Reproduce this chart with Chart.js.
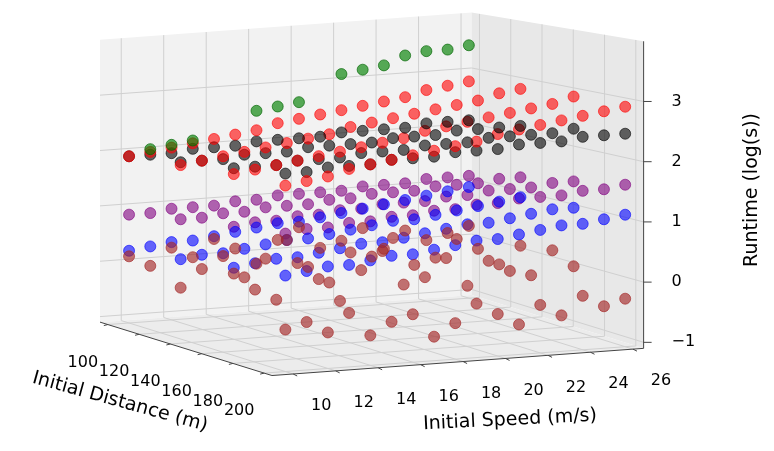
<!DOCTYPE html>
<html><head><meta charset="utf-8">
<script src="https://cdn.jsdelivr.net/npm/chart.js@4"></script>
<style>html,body{margin:0;background:#fff}</style></head>
<body><canvas id="c" width="774" height="451"></canvas>
<script>
const speeds=[10,11,12,13,14,15,16,17,18,19,20,21,22,23,24,25,26];
const distances=[100,133,167,200];
const speedTicks=[10,12,14,16,18,20,22,24,26];
const distTicks=[100,120,140,160,180,200];
const zTicks=[-1,0,1,2,3];
const brown=[[0.1,-0.1,0.2,0.0,0.3,0.1,-0.2,0.2,0.4,0.0,0.1,0.3,-0.1,0.2,0.0,0.1,0.2],[-0.2,0.1,0.3,-0.1,0.2,0.5,0.0,-0.3,0.2,0.1,0.4,-0.1,0.0,0.3,0.1,-0.2,0.1],[0.3,0.0,-0.2,0.4,0.1,-0.3,0.2,0.5,-0.1,0.0,0.3,-0.2,0.2,0.0,-0.1,0.3,0.0],[-0.4,-0.3,-0.5,-0.2,-0.6,-0.4,-0.3,-0.7,-0.5,-0.2,-0.4,-0.6,-0.3,-0.5,-0.2,-0.4,-0.3]];
const blue=[[0.2,0.25,0.3,0.3,0.35,0.4,0.45,0.5,0.5,0.55,0.6,0.65,0.7,0.75,0.8,0.85,0.9],[0.3,0.35,0.35,0.4,0.45,0.5,0.5,0.55,0.6,0.65,0.7,0.7,0.75,0.8,0.85,0.9,0.95],[0.4,0.45,0.5,0.5,0.55,0.6,0.65,0.65,0.7,0.75,0.8,0.85,0.85,0.9,0.95,1.0,1.0],[0.5,0.55,0.6,0.6,0.65,0.7,0.7,0.75,0.8,0.85,0.85,0.9,0.95,1.0,1.0,1.05,1.1]];
const purple=[[0.85,0.85,0.9,0.9,0.9,0.95,0.95,1.0,1.0,1.0,1.0,1.05,1.05,1.05,1.1,1.1,1.1],[1.0,1.0,1.05,1.05,1.1,1.1,1.1,1.15,1.15,1.2,1.2,1.2,1.25,1.25,1.25,1.3,1.3],[1.1,1.15,1.15,1.2,1.2,1.25,1.25,1.3,1.3,1.3,1.35,1.35,1.4,1.4,1.4,1.45,1.45],[1.2,1.25,1.25,1.3,1.3,1.35,1.35,1.4,1.4,1.45,1.45,1.5,1.5,1.5,1.55,1.55,1.6]];
const red=[[1.9,1.95,2.0,2.05,2.1,2.15,2.2,2.3,2.35,2.4,2.45,2.5,2.55,2.6,2.7,2.75,2.8],[1.95,2.0,2.05,2.1,2.15,2.2,2.25,2.3,2.4,2.45,2.5,2.55,2.6,2.65,2.7,2.8,2.85],[2.0,2.05,2.1,2.15,2.2,2.25,2.3,2.35,2.4,2.5,2.55,2.6,2.65,2.7,2.75,2.8,2.9],[2.0,2.05,2.1,2.2,2.25,2.3,2.35,2.4,2.45,2.5,2.6,2.65,2.7,2.75,2.8,2.85,2.9]];
const black=[[1.9,1.9,1.9,1.95,1.95,1.95,2.0,2.0,2.0,2.0,2.05,2.05,2.05,2.05,2.1,2.1,2.1],[2.0,2.0,2.0,2.05,2.05,2.05,2.1,2.1,2.1,2.1,2.15,2.15,2.15,2.2,2.2,2.2,2.2],[2.1,2.1,2.1,2.15,2.15,2.15,2.2,2.2,2.2,2.25,2.25,2.25,2.3,2.3,2.3,2.3,2.35],[2.2,2.2,2.25,2.25,2.25,2.3,2.3,2.3,2.35,2.35,2.35,2.4,2.4,2.4,2.45,2.45,2.45]];
const green=[null,2.0,2.05,2.1,null,null,2.55,2.6,2.65,null,3.1,3.15,3.2,3.35,3.4,3.4,3.45];
const greenDist=100;

const S0=9,S1=26.5,D0=95,D1=205,Z0=-1.1,Z1=4.0;
function proj(s,d,z){
  const zs=57+(d-D0)/(D1-D0)*5;
  return {x:270+(s-S0)*21.6+(d-D1)*1.59, y:380-(s-S0)*1.6+(d-D1)*0.5-(z-Z0)*zs};
}
const series=[['rgba(165,42,42,0.65)',brown],['rgba(0,0,255,0.6)',blue],['rgba(128,0,128,0.6)',purple],['rgba(255,0,0,0.6)',red],['rgba(0,0,0,0.6)',black]];
const datasets=[];
distances.forEach((d,ri)=>{
  if(d===greenDist){datasets.push({data:speeds.map((s,i)=>green[i]==null?null:proj(s,d,green[i])).filter(p=>p),backgroundColor:'rgba(0,128,0,0.65)',borderColor:'rgba(0,100,0,0.65)'});}
  series.forEach(([c,arr])=>datasets.push({data:speeds.map((s,i)=>proj(s,d,arr[ri][i])),backgroundColor:c,borderColor:c}));
});
datasets.forEach(ds=>{ds.pointRadius=5.5;ds.borderWidth=1;});

const box={id:'box',beforeDatasetsDraw(chart){
  const ctx=chart.ctx,X=chart.scales.x,Y=chart.scales.y;
  const P=(s,d,z)=>{const p=proj(s,d,z);return [X.getPixelForValue(p.x),Y.getPixelForValue(p.y)];};
  const poly=(pts,fill)=>{ctx.beginPath();pts.forEach((p,i)=>i?ctx.lineTo(...p):ctx.moveTo(...p));ctx.closePath();ctx.fillStyle=fill;ctx.fill();};
  const line=(a,b,c,w)=>{ctx.beginPath();ctx.moveTo(...a);ctx.lineTo(...b);ctx.strokeStyle=c;ctx.lineWidth=w;ctx.stroke();};
  ctx.save();
  poly([P(S0,D0,Z0),P(S1,D0,Z0),P(S1,D0,Z1),P(S0,D0,Z1)],'#f2f2f2');
  poly([P(S1,D0,Z0),P(S1,D1,Z0),P(S1,D1,Z1),P(S1,D0,Z1)],'#e8e8e8');
  poly([P(S0,D0,Z0),P(S1,D0,Z0),P(S1,D1,Z0),P(S0,D1,Z0)],'#ececec');
  const g='#d0d0d0';
  speedTicks.forEach(s=>{line(P(s,D1,Z0),P(s,D0,Z0),g,1);line(P(s,D0,Z0),P(s,D0,Z1),g,1);});
  distTicks.forEach(d=>{line(P(S0,d,Z0),P(S1,d,Z0),g,1);line(P(S1,d,Z0),P(S1,d,Z1),g,1);});
  zTicks.forEach(z=>{line(P(S0,D0,z),P(S1,D0,z),g,1);line(P(S1,D0,z),P(S1,D1,z),g,1);});
  const k='#444';
  line(P(S0,D1,Z0),P(S1,D1,Z0),k,1);line(P(S0,D0,Z0),P(S0,D1,Z0),k,1);line(P(S1,D1,Z0),P(S1,D1,Z1),k,1);
  ctx.fillStyle='#000';ctx.font='16px "DejaVu Sans"';ctx.textAlign='center';ctx.textBaseline='middle';
  speedTicks.forEach(s=>{const p=P(s,D1,Z0);line(p,[p[0]+4,p[1]+2],k,1);ctx.fillText(String(s),p[0]+28,p[1]+32);});
  distTicks.forEach(d=>{const p=P(S0,d,Z0);line(p,[p[0]-4,p[1]+1],k,1);ctx.fillText(String(d),p[0]-25,p[1]+38);});
  zTicks.forEach(z=>{const p=P(S1,D1,z);line(p,[p[0]+8,p[1]],k,1);ctx.textAlign='left';ctx.fillText(z<0?'\u22121':String(z),p[0]+28,p[1]);ctx.textAlign='center';});
  ctx.font='19px "DejaVu Sans"';
  ctx.save();ctx.translate(120,402);ctx.rotate(0.27);ctx.fillText('Initial Distance (m)',0,0);ctx.restore();
  ctx.save();ctx.translate(510,420);ctx.rotate(-0.05);ctx.fillText('Initial Speed (m/s)',0,0);ctx.restore();
  ctx.save();ctx.translate(752,190);ctx.rotate(-Math.PI/2);ctx.fillText('Runtime (log(s))',0,0);ctx.restore();
  ctx.restore();
}};
new Chart(document.getElementById('c'),{type:'scatter',data:{datasets},
 options:{responsive:false,animation:false,layout:{padding:0},
  plugins:{legend:{display:false},tooltip:{enabled:false}},
  scales:{x:{type:'linear',min:0,max:774,display:false},y:{type:'linear',min:0,max:451,reverse:true,display:false}}},
 plugins:[box]});
</script></body></html>
